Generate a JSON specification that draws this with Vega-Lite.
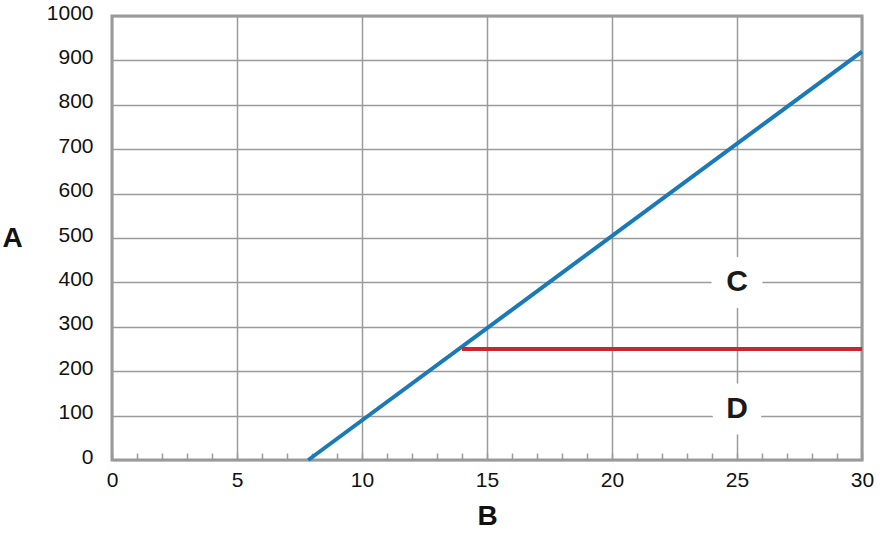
{
  "$schema": "https://vega.github.io/schema/vega-lite/v6.json",
  "autosize": "none",
  "width": 750,
  "height": 444,
  "padding": {"left": 112, "top": 16, "right": 18, "bottom": 82},
  "background": "white",
  "config": {
    "view": {"stroke": "#999999", "strokeWidth": 3},
    "axis": {
      "labelFont": "Liberation Sans",
      "labelFontSize": 21,
      "labelColor": "#111111",
      "labelOverlap": false,
      "titleFont": "Liberation Sans",
      "titleFontSize": 28,
      "titleFontWeight": "bold",
      "titleColor": "#111111",
      "gridColor": "#9a9a9a",
      "gridWidth": 1.5,
      "domain": false
    }
  },
  "datasets": {
    "lines": [
      {"x": 7.85, "y": 0, "s": "blue"},
      {"x": 30, "y": 920, "s": "blue"},
      {"x": 14, "y": 250, "s": "red"},
      {"x": 30, "y": 250, "s": "red"}
    ],
    "labels": [
      {"x": 25, "y": 400, "t": "C"},
      {"x": 25, "y": 115, "t": "D"}
    ]
  },
  "layer": [
    {
      "data": {"name": "labels"},
      "mark": {"type": "point", "shape": "circle", "filled": true, "color": "white", "opacity": 1, "size": 2600},
      "encoding": {
        "x": {
          "field": "x", "type": "quantitative",
          "scale": {"domain": [0, 30], "nice": false, "zero": false},
          "axis": {
            "title": "B",
            "tickCount": 30,
            "labelOverlap": false,
            "labelExpr": "datum.value % 5 === 0 ? datum.label : ''",
            "labelPadding": 16,
            "labelFlush": false,
            "ticks": true,
            "tickSize": -7,
            "tickColor": "#9a9a9a",
            "tickWidth": 1.5,
            "gridOpacity": {"condition": {"test": "datum.value % 5 === 0", "value": 1}, "value": 0},
            "titleX": 375,
            "titleY": 56,
            "titleBaseline": "middle",
            "titleAlign": "center"
          }
        },
        "y": {
          "field": "y", "type": "quantitative",
          "scale": {"domain": [0, 1000], "nice": false},
          "axis": {
            "title": "A",
            "format": "d",
            "values": [0,100,200,300,400,500,600,700,800,900,1000],
            "ticks": false,
            "labelPadding": 19,
            "labelOffset": -3,
            "titleAngle": 0,
            "titleX": -100,
            "titleY": 222,
            "titleBaseline": "middle",
            "titleAlign": "center"
          }
        }
      }
    },
    {
      "data": {"name": "lines"},
      "mark": {"type": "line", "strokeWidth": 4},
      "encoding": {
        "x": {"field": "x", "type": "quantitative"},
        "y": {"field": "y", "type": "quantitative"},
        "detail": {"field": "s"},
        "color": {
          "field": "s", "type": "nominal",
          "scale": {"domain": ["blue", "red"], "range": ["#1a7ab8", "#c9272d"]},
          "legend": null
        }
      }
    },
    {
      "data": {"name": "labels"},
      "mark": {"type": "text", "font": "Liberation Sans", "fontSize": 30, "fontWeight": "bold", "color": "#1a1a1a", "baseline": "middle", "align": "center"},
      "encoding": {
        "x": {"field": "x", "type": "quantitative"},
        "y": {"field": "y", "type": "quantitative"},
        "text": {"field": "t"}
      }
    }
  ]
}
